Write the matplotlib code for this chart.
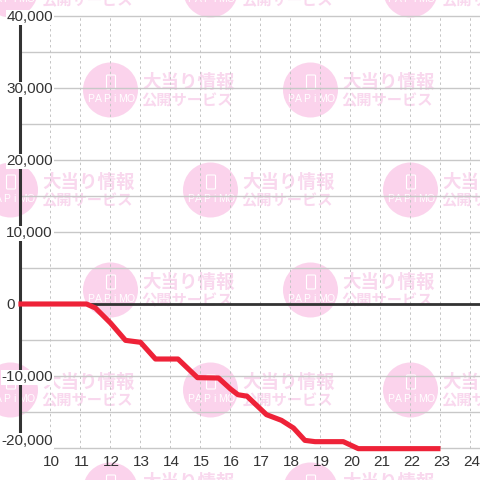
import numpy as np
import matplotlib
matplotlib.use("Agg")
import matplotlib.pyplot as plt
from matplotlib.patches import Circle, FancyBboxPatch

plt.rcParams["font.family"] = ["Liberation Sans", "DejaVu Sans"]

hours = [8.93, 11.2, 11.5, 12, 12.5, 13, 13.5, 14.25, 14.9, 15.6, 16, 16.25, 16.55, 17.2, 17.7, 18.1, 18.48, 18.82, 19.76, 20.26, 23]
values = [0, 0, -560, -2640, -5050, -5320, -7640, -7640, -10230, -10280, -11800, -12600, -12800, -15370, -16160, -17220, -18940, -19120, -19120, -20090, -20090]
x_ticks = list(range(10, 25))
y_major = [40000, 30000, 20000, 10000, 0, -10000, -20000]
y_grid = list(range(-20000, 40001, 5000))
circle_pos = [(110.5, 90), (310.5, 90), (10.5, 190), (210.5, 190), (410.5, 190), (110.5, 290), (310.5, 290),
              (10.5, 390), (210.5, 390), (410.5, 390), (210.5, -10), (410.5, -10), (10.5, -10), (110.5, 490), (310.5, 490)]

fig = plt.figure(figsize=(4.8, 4.8), dpi=100)

# watermark layer, in pixels
bg = fig.add_axes([0, 0, 1, 1])
bg.set_xlim(0, 480)
bg.set_ylim(480, 0)
bg.axis("off")
for cx, cy in circle_pos:
    bg.add_patch(Circle((cx, cy), 27.5, color="#fbd3ec", lw=0))
    bg.add_patch(FancyBboxPatch((cx - 4, cy - 15), 9, 14, boxstyle="round,pad=0,rounding_size=1",
                                fc="none", ec="white", lw=0.8))
    for i, ch in enumerate("PAPiMO"):
        bg.text(cx + (i - 2.5) * 8, cy + 9, ch, color="white", fontsize=7.5, ha="center", va="center")
    bg.text(cx + 31.5, cy - 8, "大当り情報", color="#f9d8ee", fontsize=13.3, fontweight="bold",
            family=["Noto Sans CJK JP"], ha="left", va="center")
    bg.text(cx + 30.5, cy + 10.5, "公開サービス", color="#f9d8ee", fontsize=11, fontweight="bold",
            family=["Noto Sans CJK JP"], ha="left", va="center")

ax = fig.add_axes([0, 0, 1, 1], facecolor="none")
ax.set_xlim(8.317, 24.317)
ax.set_ylim(-24444, 42222)
ax.axis("off")

for v in y_grid:
    ax.plot([10.07 if v == -20000 else 9, 24.317], [v, v], color="#c8c8c8", lw=1, zorder=1)
for h in x_ticks:
    ax.plot([h, h], [-20000, 40000], color="#c4c4c4", lw=0.7, ls=(0, (2.5, 3)), zorder=1)

ax.plot([9, 24.317], [0, 0], color="#333333", lw=2.0, zorder=2, solid_capstyle="butt")
ax.plot([9, 9], [-18200, 40000], color="#333333", lw=2.2, zorder=2, solid_capstyle="butt")
ax.plot(hours, values, color="#ee2238", lw=3.7, zorder=5, solid_joinstyle="round", solid_capstyle="butt")

box = dict(facecolor="white", edgecolor="none", pad=0.6)
for v in y_major:
    y = v - 200 if v != -20000 else -19000
    xt = 8.82 if v == 0 else 10.08
    ax.text(xt, y, f"{v:,}", ha="right", va="center", fontsize=11, color="#333333", bbox=box, zorder=4)
for h in x_ticks:
    ax.text(h + 0.03, -22000, str(h), ha="center", va="center", fontsize=11, color="#333333", zorder=4)

fig.savefig("out.png", dpi=100)
